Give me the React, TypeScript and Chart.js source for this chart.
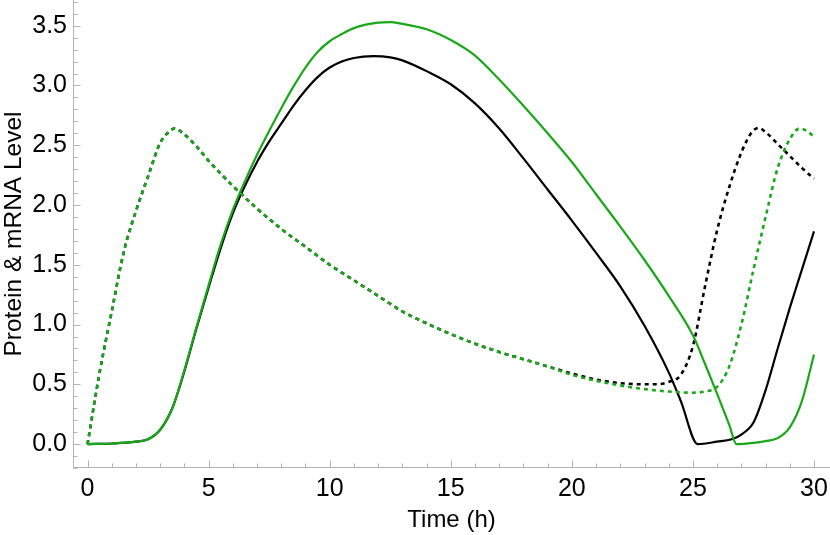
import React, { useEffect, useRef } from 'react';
import { Chart, registerables } from 'chart.js';

Chart.register(...registerables);

const FONT = "'Liberation Sans', Arial, Helvetica, sans-serif";
const BLACK = '#000000';
const GREEN = '#19a819';

// Time (h) and values for each curve
const tGreenDashed = [0, 0.5, 1, 1.5, 2, 2.5, 3, 3.3, 3.6, 4, 4.5, 5, 6, 7, 8, 9, 10, 11, 12, 13, 14, 15, 16, 17, 18, 19, 20, 21, 22, 23, 24, 25, 25.5, 26, 26.5, 27, 27.5, 28, 28.5, 29, 29.4, 29.7, 30];
const vGreenDashed = [0, 0.60, 1.11, 1.61, 1.95, 2.24, 2.52, 2.60, 2.64, 2.59, 2.49, 2.37, 2.16, 1.97, 1.80, 1.65, 1.50, 1.37, 1.24, 1.11, 1.01, 0.92, 0.84, 0.77, 0.71, 0.65, 0.58, 0.53, 0.49, 0.46, 0.44, 0.43, 0.44, 0.48, 0.65, 1.00, 1.46, 1.90, 2.31, 2.55, 2.64, 2.62, 2.57];

const tBlackDashed = [0, 0.5, 1, 1.5, 2, 2.5, 3, 3.3, 3.6, 4, 4.5, 5, 6, 7, 8, 9, 10, 11, 12, 13, 14, 15, 16, 17, 18, 19, 20, 21, 22, 23, 23.5, 24, 24.5, 25, 25.5, 26, 26.5, 27, 27.4, 27.7, 28, 28.5, 29, 29.5, 30];
const vBlackDashed = [0, 0.60, 1.11, 1.61, 1.95, 2.24, 2.52, 2.60, 2.64, 2.59, 2.49, 2.37, 2.16, 1.97, 1.80, 1.65, 1.50, 1.37, 1.24, 1.11, 1.01, 0.92, 0.84, 0.77, 0.71, 0.65, 0.59, 0.54, 0.51, 0.50, 0.50, 0.52, 0.58, 0.82, 1.32, 1.79, 2.15, 2.44, 2.60, 2.645, 2.61, 2.51, 2.41, 2.31, 2.22];

const tBlackSolid = [0, 1, 2, 2.5, 3, 3.5, 4, 4.5, 5, 5.5, 6, 6.5, 7, 7.5, 8, 8.5, 9, 9.5, 10, 10.5, 11, 11.8, 12.5, 13, 14, 15, 16, 17, 18, 19, 20, 21, 22, 23, 24, 24.5, 25.2, 26, 26.6, 27, 27.5, 28, 28.5, 29, 29.5, 30];
const vBlackSolid = [0, 0.005, 0.02, 0.04, 0.12, 0.30, 0.61, 0.97, 1.31, 1.64, 1.93, 2.16, 2.36, 2.53, 2.68, 2.83, 2.96, 3.07, 3.15, 3.20, 3.23, 3.245, 3.235, 3.21, 3.12, 3.01, 2.85, 2.64, 2.39, 2.13, 1.87, 1.60, 1.32, 0.99, 0.60, 0.36, 0.0, 0.02, 0.04, 0.08, 0.18, 0.45, 0.80, 1.14, 1.46, 1.78];

const tGreenSolid = [0, 1, 2, 2.5, 3, 3.5, 4, 4.5, 5, 5.5, 6, 6.5, 7, 7.5, 8, 8.5, 9, 9.5, 10, 10.5, 11, 12, 12.5, 13, 14, 15, 16, 17, 18, 19, 20, 21, 22, 23, 24, 25, 25.5, 26, 26.5, 26.8, 27.5, 28, 28.5, 29, 29.5, 30];
const vGreenSolid = [0, 0.005, 0.02, 0.04, 0.12, 0.30, 0.62, 0.98, 1.33, 1.67, 1.96, 2.20, 2.42, 2.62, 2.81, 2.99, 3.15, 3.28, 3.37, 3.43, 3.48, 3.525, 3.53, 3.515, 3.47, 3.38, 3.25, 3.05, 2.83, 2.60, 2.36, 2.09, 1.82, 1.54, 1.24, 0.91, 0.67, 0.42, 0.16, 0.0, 0.01, 0.025, 0.05, 0.14, 0.36, 0.75];

const X_MIN = -0.6;
const X_MAX = 30.66;
const Y_MIN = -0.2;
const Y_MAX = 3.715;
const X_STEP = 5;
const Y_STEP = 0.5;

const X_TITLE = 'Time (h)';
const Y_TITLE = 'Protein & mRNA Level';

const toPoints = (t: number[], v: number[]) => t.map((x, i) => ({ x, y: v[i] }));

const framePlugin = {
  id: 'mmaFrame',
  beforeDatasetsDraw(chart: any) {
    const { ctx, chartArea, scales } = chart;
    const xs = scales.x;
    const ys = scales.y;
    const left = Math.round(chartArea.left) + 0.5;
    const bottom = Math.round(chartArea.bottom) - 0.5;
    ctx.save();
    ctx.strokeStyle = '#b3b3b3';
    ctx.lineWidth = 1;
    ctx.beginPath();
    ctx.moveTo(left, chartArea.top);
    ctx.lineTo(left, bottom);
    ctx.lineTo(chartArea.right, bottom);
    for (let i = Math.ceil(xs.min); i <= Math.floor(xs.max); i++) {
      const px = Math.round(xs.getPixelForValue(i)) + 0.5;
      const len = i % 5 === 0 ? 7 : 4;
      ctx.moveTo(px, bottom);
      ctx.lineTo(px, bottom - len);
    }
    for (let k = Math.ceil(ys.min * 10 - 1e-6); k <= Math.floor(ys.max * 10 + 1e-6); k++) {
      const py = Math.round(ys.getPixelForValue(k / 10)) + 0.5;
      const len = k % 5 === 0 ? 7 : 4;
      ctx.moveTo(left, py);
      ctx.lineTo(left + len, py);
    }
    ctx.stroke();
    ctx.restore();
  },
};

export default function App() {
  const ref = useRef<HTMLCanvasElement>(null);

  useEffect(() => {
    const canvas = ref.current;
    if (!canvas) return;
    const common = {
      pointRadius: 0,
      fill: false,
      cubicInterpolationMode: 'monotone' as const,
      borderCapStyle: 'butt' as const,
    };
    const chart = new Chart(canvas, {
      type: 'line',
      data: {
        datasets: [
          { ...common, data: toPoints(tGreenDashed, vGreenDashed), borderColor: GREEN, borderWidth: 2.6, borderDash: [4, 4] },
          { ...common, data: toPoints(tGreenSolid, vGreenSolid), borderColor: GREEN, borderWidth: 2.2 },
          { ...common, data: toPoints(tBlackDashed, vBlackDashed), borderColor: BLACK, borderWidth: 2.6, borderDash: [4, 4] },
          { ...common, data: toPoints(tBlackSolid, vBlackSolid), borderColor: BLACK, borderWidth: 2.2 },
        ],
      },
      options: {
        responsive: false,
        animation: false,
        devicePixelRatio: 1,
        layout: { padding: 0 },
        plugins: { legend: { display: false }, tooltip: { enabled: false } },
        scales: {
          x: {
            type: 'linear',
            min: X_MIN,
            max: X_MAX,
            grid: { display: false, drawTicks: false },
            border: { display: false },
            ticks: {
              stepSize: X_STEP,
              includeBounds: false,
              autoSkip: false,
              maxRotation: 0,
              color: '#000',
              padding: 6,
              font: { family: FONT, size: 25 },
            },
            title: {
              display: true,
              text: X_TITLE,
              color: '#000',
              font: { family: FONT, size: 24 },
              padding: { top: 0, bottom: 0 },
            },
            afterFit: (s: any) => {
              s.height = 67;
              s.paddingLeft = 0;
              s.paddingRight = 0;
            },
          },
          y: {
            type: 'linear',
            min: Y_MIN,
            max: Y_MAX,
            grid: { display: false, drawTicks: false },
            border: { display: false },
            ticks: {
              stepSize: Y_STEP,
              includeBounds: false,
              autoSkip: false,
              color: '#000',
              padding: 6,
              font: { family: FONT, size: 25 },
              callback: (v: any) => Number(v).toFixed(1),
            },
            title: {
              display: true,
              text: Y_TITLE,
              color: '#000',
              font: { family: FONT, size: 24.5 },
              padding: { top: 0, bottom: 2 },
            },
            afterFit: (s: any) => {
              s.width = 73;
              s.paddingTop = 0;
              s.paddingBottom = 0;
            },
          },
        },
      },
      plugins: [framePlugin],
    });
    return () => chart.destroy();
  }, []);

  return (
    <div style={{ position: 'fixed', left: 0, top: 0, width: 830, height: 535, background: '#fff' }}>
      <canvas ref={ref} width={830} height={535} style={{ display: 'block', width: 830, height: 535 }} />
    </div>
  );
}
